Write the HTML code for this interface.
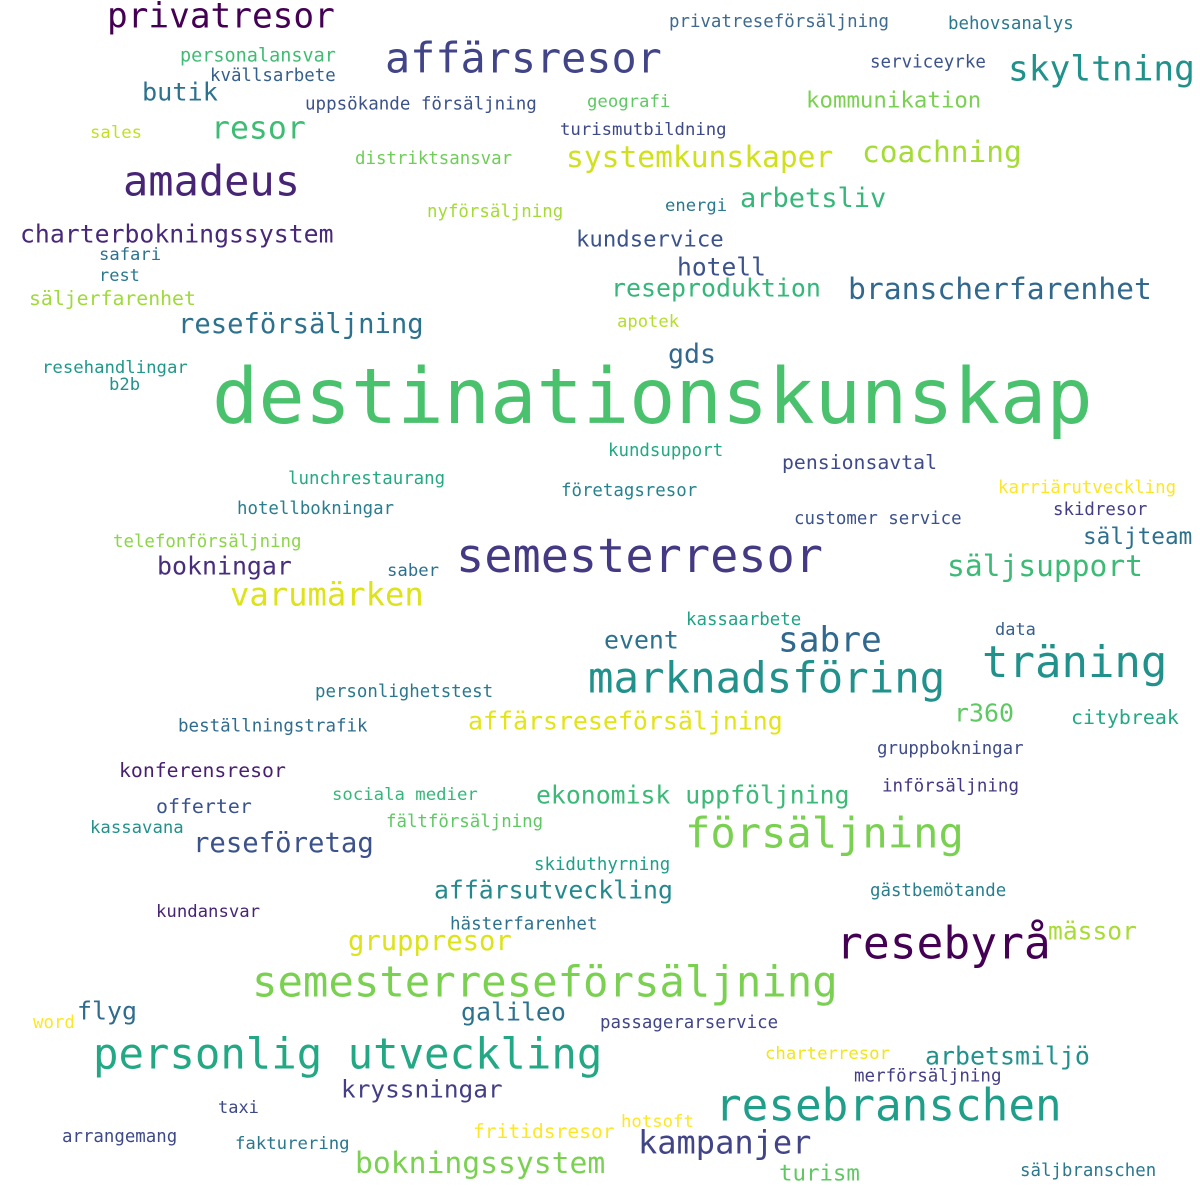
<!DOCTYPE html>
<html><head><meta charset="utf-8">
<style>
html,body{margin:0;padding:0;background:#fff;}
svg{display:block;}
text{font-family:"DejaVu Sans Mono","Liberation Mono",monospace;}
</style></head>
<body>
<svg id="cloud" width="1200" height="1200" viewBox="0 0 1200 1200" xmlns="http://www.w3.org/2000/svg">
<rect width="1200" height="1200" fill="#fff"/>
</svg>
<script>
const words = ["privatresor","affärsresor","skyltning","privatreseförsäljning","behovsanalys","personalansvar","kvällsarbete","serviceyrke","butik","uppsökande försäljning","geografi","kommunikation","sales","resor","turismutbildning","amadeus","distriktsansvar","systemkunskaper","coachning","arbetsliv","energi","nyförsäljning","charterbokningssystem","kundservice","safari","rest","hotell","reseproduktion","branscherfarenhet","säljerfarenhet","reseförsäljning","apotek","gds","resehandlingar","b2b","destinationskunskap","kundsupport","pensionsavtal","lunchrestaurang","karriärutveckling","företagsresor","skidresor","hotellbokningar","customer service","telefonförsäljning","säljteam","semesterresor","bokningar","saber","säljsupport","varumärken","kassaarbete","data","event","sabre","träning","marknadsföring","personlighetstest","r360","citybreak","beställningstrafik","affärsreseförsäljning","gruppbokningar","konferensresor","införsäljning","sociala medier","ekonomisk uppföljning","offerter","kassavana","fältförsäljning","försäljning","reseföretag","skiduthyrning","affärsutveckling","gästbemötande","kundansvar","hästerfarenhet","mässor","gruppresor","resebyrå","semesterreseförsäljning","flyg","word","galileo","passagerarservice","personlig utveckling","charterresor","arbetsmiljö","merförsäljning","kryssningar","resebranschen","taxi","hotsoft","fritidsresor","kampanjer","arrangemang","fakturering","bokningssystem","turism","säljbranschen"];
const fontSizes = [34.4,41.8,34.5,17.4,17.4,18.5,17.4,17.5,25.2,17.5,17.3,22.4,17.3,31.5,17.3,42,17.4,29.6,29.5,27,17.2,17.4,24.8,22.3,17.2,17,24.6,24.9,29.7,19.8,27.2,17.2,26.6,17.3,17.2,77,17.4,19.8,17.4,17.4,17.4,17.4,17.4,17.4,17.4,22.7,46.9,24.9,17.3,29.6,32.2,17.4,17,24.9,34.5,44,42.4,17.4,24.9,19.9,17.5,24.9,17.4,19.8,17.5,17.3,24.8,19.9,17.3,17.4,42.1,27.3,17.4,24.8,17.4,17.3,17.5,24.6,27.2,44.6,42.3,24.9,17.4,24.9,17.4,42.3,17.3,24.9,17.5,24.4,44.3,17,17.3,19.6,32,17.4,17.3,29.7,22.4,17.4];
const xLeft = [107,385,1008,669,948,180,210,870,142,305,587,806,90,211,560,123,355,566,862,740,665,427,20,576,99,99,677,611,848,29,178,617,668,42,109,212,608,782,288,998,561,1053,237,794,113,1083,456,157,387,947,230,686,995,604,778,982,588,315,954,1071,178,468,877,119,882,332,536,156,90,386,685,193,534,434,870,156,450,1048,348,836,252,77,33,461,600,93,765,925,854,341,715,218,621,473,638,62,235,355,779,1020];
const yCenter = [17,60,70,22,24,56,76,62,93,104,102,101,133,129,130,183,159,158,153,199,206,212,235,240,255,276,268,289,290,299,325,322,355,368,385,400,451,463,479,488,491,510,509,519,542,537,558,567,571,567,596,620,630,641,641,664,680,692,714,718,726,722,749,771,786,795,796,807,828,822,835,844,865,891,891,912,924,932,942,945,984,1012,1023,1013,1023,1056,1054,1057,1076,1090,1107,1108,1122,1132,1144,1137,1144,1164,1174,1171];
const colors = ["#440154","#414487","#21918c","#3e6a8f","#2a788e","#3fbc73","#355f8d","#3b528b","#2c728e","#3b528b","#5ec962","#7ad151","#c2df23","#3dbc74","#3e4989","#482475","#6ece58","#d0e11c","#a5db36","#35b779","#2a788e","#a5db36","#482878","#3b528b","#2c728e","#2a788e","#3b528b","#35b779","#31688e","#9fda3a","#2c728e","#b5de2b","#31688e","#1f988b","#21918c","#4ac16d","#22a884","#3e4a89","#25a982","#fde725","#26828e","#433e85","#287d8e","#3b528b","#8bd646","#2d708e","#443983","#472d7b","#2d708e","#3bbb75","#dde318","#20a386","#355f8d","#2c728e","#31688e","#21918c","#21918c","#2a788e","#5ec962","#22a884","#2f6c8e","#e2e418","#3e4c8a","#481f70","#453781","#35b779","#3aba76","#3b528b","#21918c","#5ec962","#7ad151","#3b528b","#1f9e89","#23898e","#277f8e","#482475","#2c728e","#a8db34","#dde318","#440154","#7ad151","#2f6c8e","#fde725","#2c728e","#414487","#22a884","#f1e51d","#21918c","#433e85","#433e85","#1f9e89","#3e4989","#fde725","#fde725","#414487","#3e4989","#2a788e","#7ad151","#5ec962","#2a788e"];

const svg = document.getElementById('cloud');
const NS = 'http://www.w3.org/2000/svg';
for (let i = 0; i < words.length; i++) {
  const t = document.createElementNS(NS, 'text');
  const fs = fontSizes[i];
  t.setAttribute('x', xLeft[i]);
  t.setAttribute('y', (yCenter[i] + 0.3 * fs).toFixed(1));
  t.setAttribute('font-size', fs);
  t.setAttribute('fill', colors[i]);
  t.setAttribute('textLength', (words[i].length * 0.602 * fs).toFixed(1));
  t.setAttribute('lengthAdjust', 'spacingAndGlyphs');
  t.setAttribute('xml:space', 'preserve');
  t.textContent = words[i];
  
  
  svg.appendChild(t);
}
</script>
</body></html>
